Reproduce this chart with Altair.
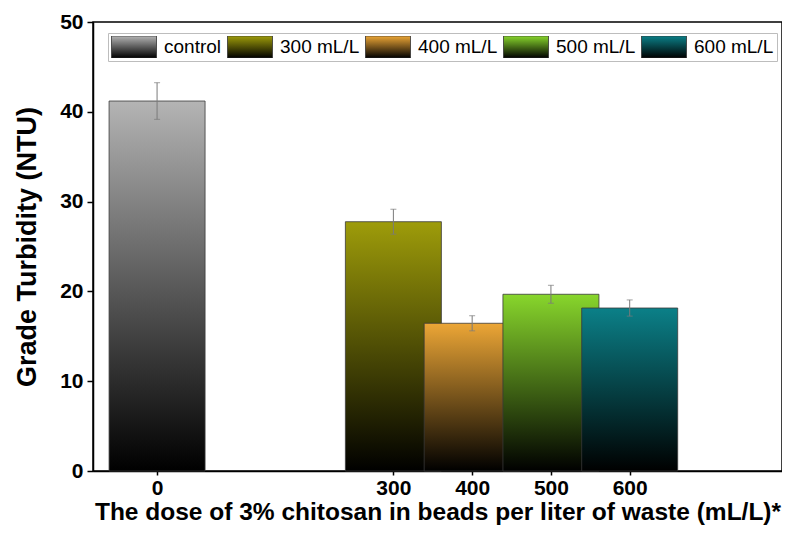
import altair as alt
import pandas as pd

# ---- data ----
doses = [0, 300, 400, 500, 600]
groups = ["control", "300 mL/L", "400 mL/L", "500 mL/L", "600 mL/L"]
turbidity = [41.2, 27.76, 16.45, 19.68, 18.15]
errors = [2.04, 1.39, 0.84, 1.0, 0.9]
top_colors = ["#b4b4b4", "#9e9c0a", "#eca636", "#88d62c", "#0b8088"]
y_ticks = [0, 10, 20, 30, 40, 50]

df = pd.DataFrame({"dose": doses, "group": groups, "value": turbidity, "err": errors})


def grad(c):
    return {
        "expr": "{gradient:'linear',x1:0,y1:0,x2:0,y2:1,stops:[{offset:0,color:'"
        + c
        + "'},{offset:1,color:'#000000'}]}"
    }


FONT = "Liberation Sans"
x_scale = alt.Scale(domain=[-75, 787], nice=False, zero=False)
y_scale = alt.Scale(domain=[0, 50], nice=False)

x_axis = alt.Axis(
    values=doses,
    title="The dose of 3% chitosan in beads per liter of waste (mL/L)*",
    titleFontSize=24.5,
    titlePadding=2,
    labelFontSize=21,
    tickSize=4,
    labelPadding=2,
    grid=False,
)
y_axis = alt.Axis(
    values=y_ticks,
    title="Grade Turbidity (NTU)",
    titleFontSize=27,
    titlePadding=18,
    labelFontSize=21,
    tickSize=6,
    labelPadding=4,
    grid=False,
)

base = alt.Chart(df)

bars = base.mark_bar(size=96, stroke="#3a3a3a", strokeWidth=0.8).encode(
    x=alt.X("dose:Q", scale=x_scale, axis=x_axis),
    y=alt.Y("value:Q", scale=y_scale, axis=y_axis),
    fill=alt.Fill(
        "group:N",
        scale=alt.Scale(domain=groups, range=[grad(c) for c in top_colors]),
        legend=alt.Legend(
            title=None,
            orient="none",
            legendX=15,
            legendY=11,
            direction="horizontal",
            columns=5,
            symbolType="M-1,-0.49H1V0.49H-1Z",
            symbolSize=2025,
            clipHeight=22,
            symbolStrokeColor="#333333",
            symbolStrokeWidth=0.8,
            symbolOpacity=1,
            labelFont=FONT,
            labelFontSize=19,
            labelColor="#000000",
            labelOffset=7,
            columnPadding=5,
            padding=3,
            strokeColor="#bdbdbd",
            fillColor="#ffffff",
            labelLimit=0,
        ),
    ),
)

err = base.transform_calculate(
    lo="datum.value - datum.err", hi="datum.value + datum.err"
)
rule = err.mark_rule(color="#7a7a7a", strokeWidth=1).encode(
    x=alt.X("dose:Q", scale=x_scale), y=alt.Y("lo:Q", scale=y_scale), y2="hi:Q"
)
cap_hi = err.mark_tick(orient="horizontal", size=6, thickness=1, color="#7a7a7a").encode(
    x=alt.X("dose:Q", scale=x_scale), y=alt.Y("hi:Q", scale=y_scale)
)
cap_lo = err.mark_tick(orient="horizontal", size=6, thickness=1, color="#7a7a7a").encode(
    x=alt.X("dose:Q", scale=x_scale), y=alt.Y("lo:Q", scale=y_scale)
)

chart = (
    alt.layer(bars, rule, cap_hi, cap_lo)
    .properties(
        width=689,
        height=449,
        autosize=alt.AutoSizeParams(type="none"),
        padding={"left": 85, "top": 14, "right": 0, "bottom": 54},
        background="white",
    )
    .configure_view(stroke="#000000", strokeWidth=1.5)
    .configure_axis(
        domainColor="#000000",
        domainWidth=1.5,
        tickColor="#000000",
        tickWidth=1.5,
        labelFont=FONT,
        labelFontWeight="bold",
        labelColor="#000000",
        titleFont=FONT,
        titleFontWeight="bold",
        titleColor="#000000",
    )
)

chart.save("out.html", embed_options={"renderer": "svg", "actions": False})
